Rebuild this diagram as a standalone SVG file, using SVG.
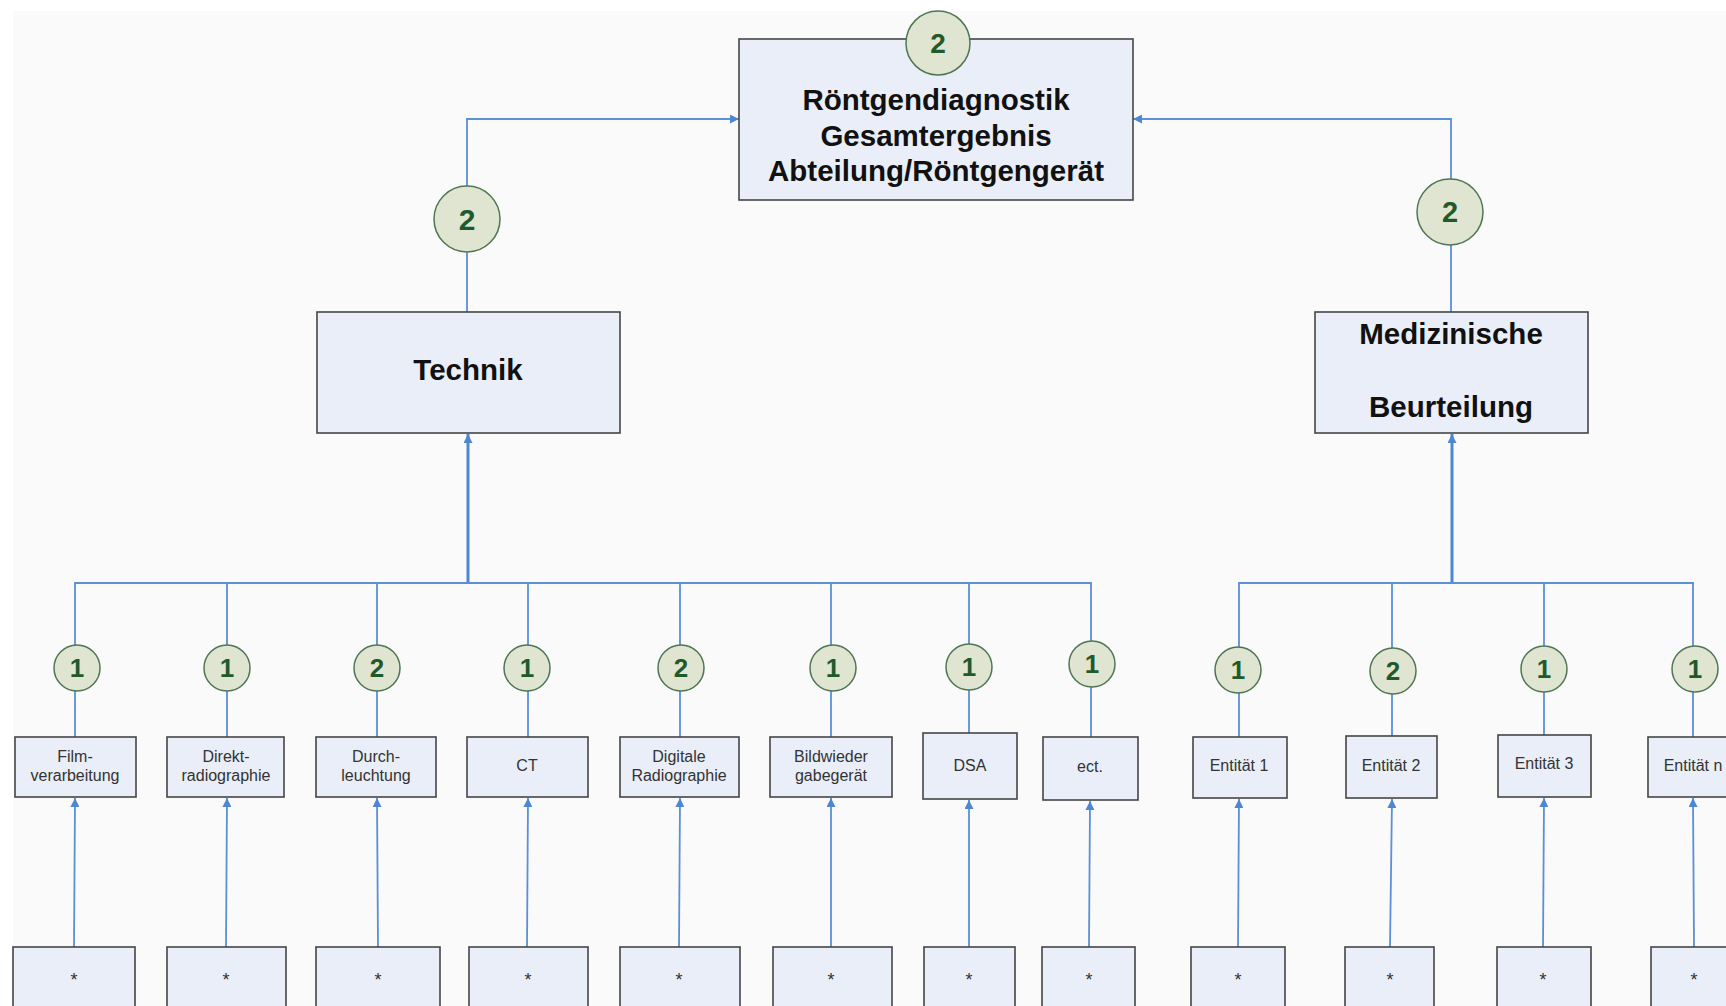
<svg xmlns="http://www.w3.org/2000/svg" width="1726" height="1006" viewBox="0 0 1726 1006">
<style>
.box{fill:#e9eef8;stroke:#454545;stroke-width:1.6}
.bdg{fill:#dfe5d0;stroke:#4f7654;stroke-width:1.5}
.num{font-family:"Liberation Sans",Arial,sans-serif;font-weight:bold;fill:#1f5a2c;text-anchor:middle}
.big{font-family:"Liberation Sans",Arial,sans-serif;font-weight:bold;font-size:29.5px;fill:#111;text-anchor:middle}
.sm{font-family:"Liberation Sans",Arial,sans-serif;font-size:16px;fill:#333;text-anchor:middle}
.st{font-family:"Liberation Sans",Arial,sans-serif;font-size:18px;fill:#333;text-anchor:middle}
.ln{fill:none;stroke:#5b8fd6;stroke-width:1.8}
.tr{fill:none;stroke:#4f86d2;stroke-width:3}
</style>
<defs>
<marker id="ah" viewBox="0 0 10 10" refX="10" refY="5" markerWidth="9" markerHeight="9" markerUnits="userSpaceOnUse" orient="auto">
<path d="M0,0 L10,5 L0,10 z" fill="#4f86d2"/>
</marker>
</defs>
<rect x="0" y="0" width="1726" height="1006" fill="#ffffff"/>
<rect x="13" y="11" width="1713" height="995" fill="#fafafa"/>

<g id="connectors">
<path class="ln" d="M467,312 V119 H739" marker-end="url(#ah)"/>
<path class="ln" d="M1451,312 V119 H1133" marker-end="url(#ah)"/>
<path class="tr" d="M468,583 V434" marker-end="url(#ah)"/>
<path class="tr" d="M1452,583 V434" marker-end="url(#ah)"/>
<path class="ln" d="M75,737 V583 H1091 V737"/>
<path class="ln" d="M227,583 V737 M377,583 V737 M528,583 V737 M680,583 V737 M831,583 V737 M969,583 V733"/>
<path class="ln" d="M1239,737 V583 H1693 V737 M1392,583 V736 M1544,583 V735"/>
<path class="ln" d="M74,947 L75,798" marker-end="url(#ah)"/>
<path class="ln" d="M226,947 L227,798" marker-end="url(#ah)"/>
<path class="ln" d="M378,947 L377,798" marker-end="url(#ah)"/>
<path class="ln" d="M527,947 L528,798" marker-end="url(#ah)"/>
<path class="ln" d="M679,947 L680,798" marker-end="url(#ah)"/>
<path class="ln" d="M831,947 L831,798" marker-end="url(#ah)"/>
<path class="ln" d="M969,947 L969,800" marker-end="url(#ah)"/>
<path class="ln" d="M1089,947 L1090,801" marker-end="url(#ah)"/>
<path class="ln" d="M1238,947 L1239,799" marker-end="url(#ah)"/>
<path class="ln" d="M1390,947 L1392,799" marker-end="url(#ah)"/>
<path class="ln" d="M1543,947 L1544,798" marker-end="url(#ah)"/>
<path class="ln" d="M1694,947 L1693,798" marker-end="url(#ah)"/>
</g>

<g id="n-root">
<rect class="box" x="739" y="39" width="394" height="161"/>
<circle class="bdg" cx="938" cy="43" r="32"/>
<text class="num" x="938" y="53" font-size="28">2</text>
<text class="big" x="936" y="110">Röntgendiagnostik</text>
<text class="big" x="936" y="146">Gesamtergebnis</text>
<text class="big" x="936" y="181">Abteilung/Röntgengerät</text>
</g>

<g id="n-technik">
<circle class="bdg" cx="467" cy="219" r="33"/>
<text class="num" x="467" y="230" font-size="30">2</text>
<rect class="box" x="317" y="312" width="303" height="121"/>
<text class="big" x="468" y="380">Technik</text>
</g>

<g id="n-med">
<circle class="bdg" cx="1450" cy="212" r="33"/>
<text class="num" x="1450" y="222" font-size="29">2</text>
<rect class="box" x="1315" y="312" width="273" height="121"/>
<text class="big" x="1451" y="344">Medizinische</text>
<text class="big" x="1451" y="417">Beurteilung</text>
</g>

<g id="n-film">
<circle class="bdg" cx="77" cy="668" r="23"/>
<text class="num" x="77" y="677" font-size="26">1</text>
<rect class="box" x="15" y="737" width="121" height="60"/>
<text class="sm" x="75" y="762">Film-</text>
<text class="sm" x="75" y="781">verarbeitung</text>
</g>
<g id="n-direkt">
<circle class="bdg" cx="227" cy="668" r="23"/>
<text class="num" x="227" y="677" font-size="26">1</text>
<rect class="box" x="167" y="737" width="117" height="60"/>
<text class="sm" x="226" y="762">Direkt-</text>
<text class="sm" x="226" y="781">radiographie</text>
</g>
<g id="n-durch">
<circle class="bdg" cx="377" cy="668" r="23"/>
<text class="num" x="377" y="677" font-size="26">2</text>
<rect class="box" x="316" y="737" width="120" height="60"/>
<text class="sm" x="376" y="762">Durch-</text>
<text class="sm" x="376" y="781">leuchtung</text>
</g>
<g id="n-ct">
<circle class="bdg" cx="527" cy="668" r="23"/>
<text class="num" x="527" y="677" font-size="26">1</text>
<rect class="box" x="467" y="737" width="121" height="60"/>
<text class="sm" x="527" y="771">CT</text>
</g>
<g id="n-digitale">
<circle class="bdg" cx="681" cy="668" r="23"/>
<text class="num" x="681" y="677" font-size="26">2</text>
<rect class="box" x="620" y="737" width="119" height="60"/>
<text class="sm" x="679" y="762">Digitale</text>
<text class="sm" x="679" y="781">Radiographie</text>
</g>
<g id="n-bild">
<circle class="bdg" cx="833" cy="668" r="23"/>
<text class="num" x="833" y="677" font-size="26">1</text>
<rect class="box" x="770" y="737" width="122" height="60"/>
<text class="sm" x="831" y="762">Bildwieder</text>
<text class="sm" x="831" y="781">gabegerät</text>
</g>
<g id="n-dsa">
<circle class="bdg" cx="969" cy="667" r="23"/>
<text class="num" x="969" y="676" font-size="26">1</text>
<rect class="box" x="923" y="733" width="94" height="66"/>
<text class="sm" x="970" y="771">DSA</text>
</g>
<g id="n-ect">
<circle class="bdg" cx="1092" cy="664" r="23"/>
<text class="num" x="1092" y="673" font-size="26">1</text>
<rect class="box" x="1043" y="737" width="95" height="63"/>
<text class="sm" x="1090" y="772">ect.</text>
</g>
<g id="n-e1">
<circle class="bdg" cx="1238" cy="670" r="23"/>
<text class="num" x="1238" y="679" font-size="26">1</text>
<rect class="box" x="1193" y="737" width="94" height="61"/>
<text class="sm" x="1239" y="771">Entität 1</text>
</g>
<g id="n-e2">
<circle class="bdg" cx="1393" cy="671" r="23"/>
<text class="num" x="1393" y="680" font-size="26">2</text>
<rect class="box" x="1346" y="736" width="91" height="62"/>
<text class="sm" x="1391" y="771">Entität 2</text>
</g>
<g id="n-e3">
<circle class="bdg" cx="1544" cy="669" r="23"/>
<text class="num" x="1544" y="678" font-size="26">1</text>
<rect class="box" x="1498" y="735" width="93" height="62"/>
<text class="sm" x="1544" y="769">Entität 3</text>
</g>
<g id="n-en">
<circle class="bdg" cx="1695" cy="669" r="23"/>
<text class="num" x="1695" y="678" font-size="26">1</text>
<rect class="box" x="1648" y="737" width="95" height="60"/>
<text class="sm" x="1693" y="771">Entität n</text>
</g>

<g id="n-s1"><rect class="box" x="13" y="947" width="122" height="80"/><text class="st" x="74" y="986">*</text></g>
<g id="n-s2"><rect class="box" x="167" y="947" width="119" height="80"/><text class="st" x="226" y="986">*</text></g>
<g id="n-s3"><rect class="box" x="316" y="947" width="124" height="80"/><text class="st" x="378" y="986">*</text></g>
<g id="n-s4"><rect class="box" x="469" y="947" width="119" height="80"/><text class="st" x="528" y="986">*</text></g>
<g id="n-s5"><rect class="box" x="620" y="947" width="120" height="80"/><text class="st" x="679" y="986">*</text></g>
<g id="n-s6"><rect class="box" x="773" y="947" width="119" height="80"/><text class="st" x="831" y="986">*</text></g>
<g id="n-s7"><rect class="box" x="924" y="947" width="91" height="80"/><text class="st" x="969" y="986">*</text></g>
<g id="n-s8"><rect class="box" x="1042" y="947" width="93" height="80"/><text class="st" x="1089" y="986">*</text></g>
<g id="n-s9"><rect class="box" x="1191" y="947" width="94" height="80"/><text class="st" x="1238" y="986">*</text></g>
<g id="n-s10"><rect class="box" x="1345" y="947" width="89" height="80"/><text class="st" x="1390" y="986">*</text></g>
<g id="n-s11"><rect class="box" x="1497" y="947" width="94" height="80"/><text class="st" x="1543" y="986">*</text></g>
<g id="n-s12"><rect class="box" x="1651" y="947" width="95" height="80"/><text class="st" x="1694" y="986">*</text></g>
</svg>
